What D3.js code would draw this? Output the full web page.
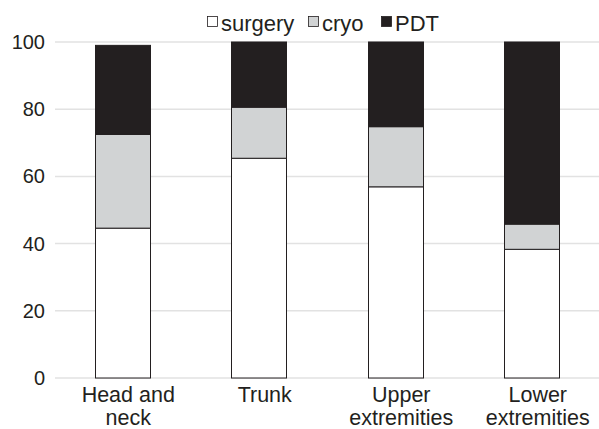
<!DOCTYPE html>
<html><head><meta charset="utf-8">
<script src="https://cdn.jsdelivr.net/npm/d3@7"></script>
<style>body{margin:0;background:#fff}svg{display:block;font-family:"Liberation Sans",Arial,sans-serif}</style>
</head><body><svg id="c" width="599" height="429"></svg>
<script>
const categories = [["Head and","neck"],["Trunk"],["Upper","extremities"],["Lower","extremities"]];
const seriesNames = ["surgery","cryo","PDT"];
const surgery = [44.6, 65.4, 56.9, 38.3];
const cryo = [27.9, 15.2, 17.9, 7.5];
const pdt = [26.5, 19.4, 25.2, 54.2];
const yTicks = [0,20,40,60,80,100];
const colors = ["#ffffff","#d1d3d4","#231f20"];

const svg = d3.select("#c");
const x = d3.scaleBand().domain(d3.range(categories.length)).range([54,600]).paddingInner(0.597).paddingOuter(0.2985);
const y = d3.scaleLinear().domain([0,100]).range([378,42]);
const ink = "#231f20";

// gridlines
svg.append("g").selectAll("line").data(yTicks).join("line")
  .attr("x1",55).attr("x2",599).attr("y1",d=>y(d)).attr("y2",d=>y(d))
  .attr("stroke","#e2e2e2").attr("stroke-width",1.5);

// y axis
const yAxis = d3.axisLeft(y).tickValues(yTicks).tickSize(0).tickPadding(0);
const ya = svg.append("g").attr("transform","translate(45,0)").call(yAxis);
ya.select(".domain").remove();
ya.selectAll("text").attr("font-size",20).attr("fill",ink).attr("font-family","Liberation Sans, Arial, sans-serif");

// stacked data
const rows = categories.map((c,i)=>({i, surgery:surgery[i], cryo:cryo[i], PDT:pdt[i]}));
const stack = d3.stack().keys(seriesNames)(rows);
svg.append("g").selectAll("g").data(stack).join("g")
  .attr("fill",(d,i)=>colors[i])
  .selectAll("rect").data(d=>d).join("rect")
  .attr("x",d=>Math.round(x(d.data.i))+0.5)
  .attr("width",Math.round(x.bandwidth()))
  .attr("y",d=>y(d[1]))
  .attr("height",d=>y(d[0])-y(d[1]))
  .attr("stroke",ink).attr("stroke-width",1);

// x labels
const xl = svg.append("g");
categories.forEach((lines,i)=>{
  const cx = x(i)+x.bandwidth()/2+6;
  const t = xl.append("text").attr("x",cx).attr("y",401.5)
    .attr("text-anchor","middle").attr("font-size",21.5).attr("fill",ink);
  lines.forEach((l,j)=>t.append("tspan").attr("x",cx).attr("dy",j?23.5:0).text(l));
});

// legend
const lg = svg.append("g");
const legendX = [207, 308, 381];
seriesNames.forEach((n,i)=>{
  lg.append("rect").attr("x",legendX[i]+0.5).attr("y",16.5).attr("width",10).attr("height",10)
    .attr("fill",colors[i]).attr("stroke",ink).attr("stroke-width",0.8);
  lg.append("text").attr("x",legendX[i]+14).attr("y",31).attr("font-size",22).attr("fill",ink).text(n);
});
</script></body></html>
